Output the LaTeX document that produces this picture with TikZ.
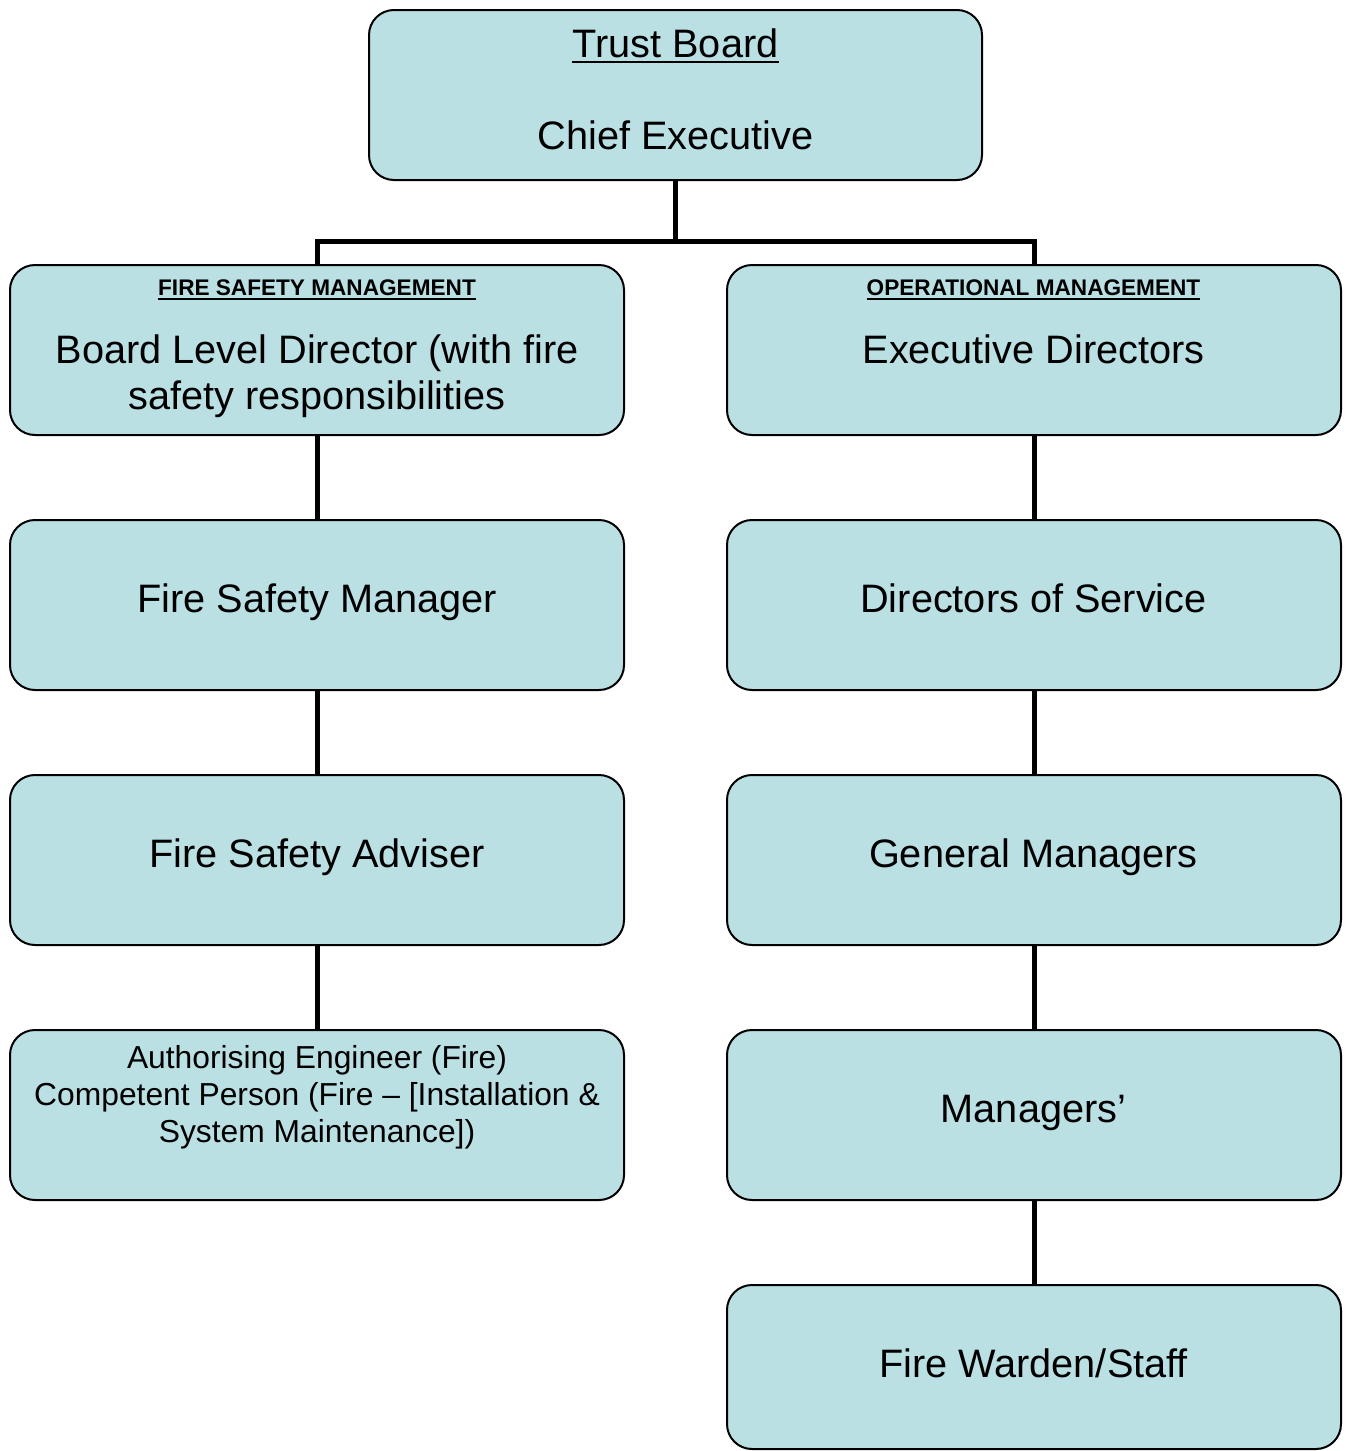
\documentclass[tikz,border=0pt]{standalone}
\usepackage{fontspec}
\setmainfont{Liberation Sans}
\definecolor{boxfill}{RGB}{186,224,228}
\tikzset{
  orgbox/.style={draw=black, line width=2pt, fill=boxfill, rounded corners=25pt,
    minimum width=614pt, minimum height=170pt, inner sep=0pt, outer sep=0pt, anchor=north west},
  conn/.style={line width=5pt, line join=miter},
  bigtxt/.style={inner sep=0pt, anchor=base, font=\fontsize{39.7}{46}\selectfont},
  hdtxt/.style={inner sep=0pt, anchor=base, font=\fontsize{22.6}{26}\selectfont\bfseries},
  smtxt/.style={inner sep=0pt, anchor=base, font=\fontsize{31.8}{37}\selectfont},
  uline/.style={line width=2pt}
}
\begin{document}
\begin{tikzpicture}[x=1pt,y=-1pt]
\useasboundingbox (0,0) rectangle (1351,1451);

% boxes
\node[orgbox, minimum width=613pt] (top) at (369,10) {};
\node[orgbox] (bld) at (10,265) {};
\node[orgbox] (exd) at (727,265) {};
\node[orgbox] (fsm) at (10,520) {};
\node[orgbox] (dos) at (727,520) {};
\node[orgbox] (fsa) at (10,775) {};
\node[orgbox] (gm)  at (727,775) {};
\node[orgbox] (ae)  at (10,1030) {};
\node[orgbox] (mgr) at (727,1030) {};
\node[orgbox, minimum height=164pt] (fw) at (727,1285) {};

% connectors
\coordinate (jn) at (675.5,241.5);
\draw[conn] (top.south) -- (jn);
\draw[conn] (bld.north) |- (jn) -| (exd.north);
\draw[conn] (bld.south) -- (fsm.north);
\draw[conn] (fsm.south) -- (fsa.north);
\draw[conn] (fsa.south) -- (ae.north);
\draw[conn] (exd.south) -- (dos.north);
\draw[conn] (dos.south) -- (gm.north);
\draw[conn] (gm.south) -- (mgr.north);
\draw[conn] (mgr.south) -- (fw.north);

% texts
\node[bigtxt] (tb) at (675.5,57) {Trust Board};
\draw[uline] ([yshift=-5pt]tb.base west) -- ([yshift=-5pt]tb.base east);
\node[bigtxt] (ce) at (675.5,149) {Chief Executive};

\node[hdtxt] (hfs) at (317,295) {FIRE SAFETY MANAGEMENT};
\draw[uline] ([yshift=-4pt]hfs.base west) -- ([yshift=-4pt]hfs.base east);
\node[hdtxt] (hop) at (1033.5,295) {OPERATIONAL MANAGEMENT};
\draw[uline] ([yshift=-4pt]hop.base west) -- ([yshift=-4pt]hop.base east);

\node[bigtxt] (bl1) at (317,363) {Board Level Director (with fire};
\node[bigtxt] (bl2) at (317,409) {safety responsibilities};
\node[bigtxt] (ed) at (1033.5,363) {Executive Directors};

\node[bigtxt] (tfsm) at (317,612) {Fire Safety Manager};
\node[bigtxt] (tdos) at (1033.5,612) {Directors of Service};

\node[bigtxt] (tfsa) at (317,867) {Fire Safety Adviser};
\node[bigtxt] (tgm) at (1033.5,867) {General Managers};

\node[smtxt] (ae1) at (317,1068) {Authorising Engineer (Fire)};
\node[smtxt] (ae2) at (317,1105) {Competent Person (Fire – [Installation \&};
\node[smtxt] (ae3) at (317,1142) {System Maintenance])};
\node[bigtxt] (tmgr) at (1033.5,1122) {Managers’};

\node[bigtxt] (tfw) at (1033.5,1377) {Fire Warden/Staff};
\end{tikzpicture}
\end{document}
